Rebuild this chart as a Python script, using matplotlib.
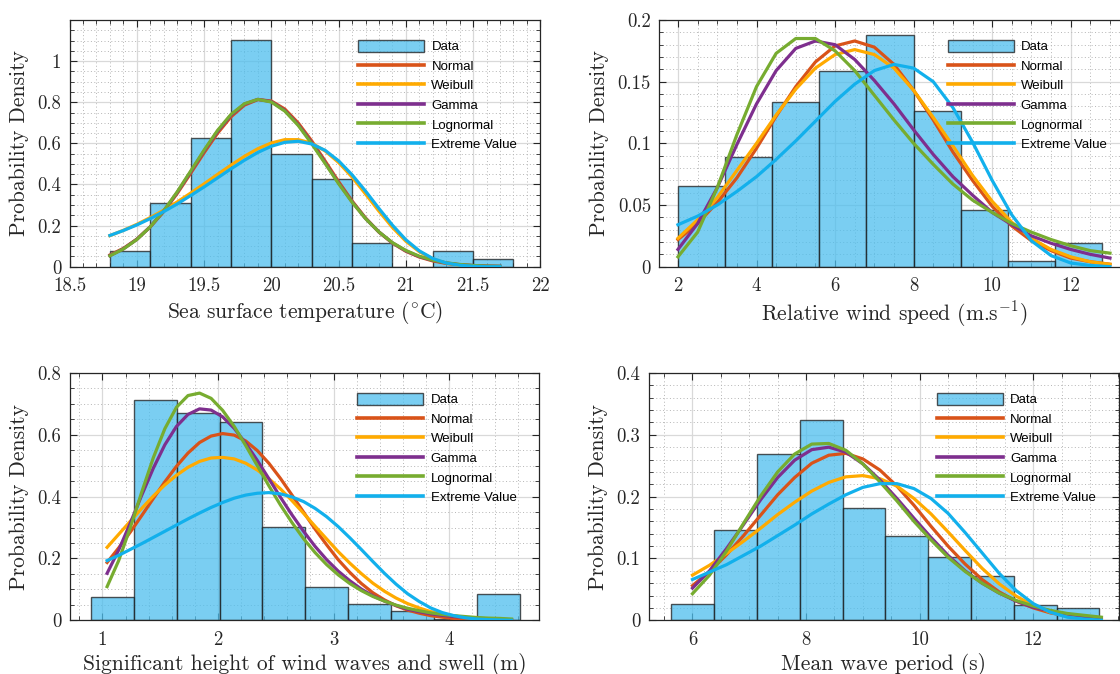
import numpy as np
import matplotlib
matplotlib.use('Agg')
import matplotlib.pyplot as plt
from matplotlib.ticker import MultipleLocator, FuncFormatter, FixedLocator
from matplotlib.patches import Patch
from matplotlib.lines import Line2D
from matplotlib.font_manager import FontProperties

plt.rcParams['mathtext.fontset'] = 'cm'
plt.rcParams['font.family'] = 'cmr10'
plt.rcParams['axes.formatter.use_mathtext'] = True

# ---------------- Panel 1: sea surface temperature ----------------
sst_edges = [18.8, 19.1, 19.4, 19.7, 20.0, 20.3, 20.6, 20.9, 21.2, 21.5, 21.8]
sst_density = [0.078, 0.309, 0.626, 1.102, 0.548, 0.429, 0.114, 0.0, 0.078, 0.036]
sst_x = [18.8, 18.9, 19.0, 19.1, 19.2, 19.3, 19.4, 19.5, 19.6, 19.7, 19.8, 19.9, 20.0, 20.1, 20.2,
         20.3, 20.4, 20.5, 20.6, 20.7, 20.8, 20.9, 21.0, 21.1, 21.2, 21.3, 21.4, 21.5, 21.6, 21.7]
sst_normal = [0.057, 0.089, 0.134, 0.194, 0.268, 0.356, 0.454, 0.554, 0.649, 0.729, 0.786, 0.813, 0.806, 0.767, 0.699,
              0.612, 0.514, 0.414, 0.320, 0.237, 0.168, 0.115, 0.075, 0.047, 0.028, 0.016, 0.009, 0.005, 0.002, 0.001]
sst_weibull = [0.151, 0.177, 0.206, 0.239, 0.275, 0.315, 0.358, 0.403, 0.449, 0.494, 0.537, 0.574, 0.602, 0.618, 0.618,
               0.601, 0.563, 0.507, 0.436, 0.354, 0.270, 0.191, 0.124, 0.073, 0.038, 0.017, 0.007, 0.002, 0.001, 0.000]
sst_gamma = [0.054, 0.087, 0.133, 0.194, 0.271, 0.361, 0.461, 0.563, 0.658, 0.737, 0.791, 0.814, 0.803, 0.760, 0.691,
             0.603, 0.506, 0.407, 0.316, 0.235, 0.169, 0.116, 0.077, 0.049, 0.031, 0.018, 0.010, 0.006, 0.003, 0.002]
sst_lognormal = [0.053, 0.086, 0.132, 0.194, 0.272, 0.364, 0.465, 0.567, 0.663, 0.741, 0.793, 0.814, 0.801, 0.757, 0.687,
                 0.598, 0.502, 0.404, 0.314, 0.234, 0.169, 0.117, 0.079, 0.051, 0.032, 0.019, 0.011, 0.006, 0.003, 0.002]
sst_extreme = [0.152, 0.176, 0.203, 0.234, 0.268, 0.305, 0.346, 0.388, 0.432, 0.476, 0.518, 0.556, 0.586, 0.605, 0.610,
               0.597, 0.566, 0.515, 0.447, 0.368, 0.283, 0.202, 0.131, 0.077, 0.040, 0.018, 0.007, 0.002, 0.000, 0.000]

# ---------------- Panel 2: relative wind speed ----------------
wind_edges = [2.0, 3.2, 4.4, 5.6, 6.8, 8.0, 9.2, 10.4, 11.6, 12.8]
wind_density = [0.0654, 0.0886, 0.1332, 0.159, 0.188, 0.126, 0.0457, 0.0043, 0.0189]
wind_x = [2.0, 2.5, 3.0, 3.5, 4.0, 4.5, 5.0, 5.5, 6.0, 6.5, 7.0, 7.5, 8.0, 8.5, 9.0, 9.5, 10.0, 10.5,
          11.0, 11.5, 12.0, 12.5, 13.0]
wind_normal = [0.022, 0.035, 0.052, 0.072, 0.096, 0.122, 0.146, 0.166, 0.179, 0.183, 0.178, 0.164, 0.143, 0.119,
               0.093, 0.070, 0.049, 0.033, 0.021, 0.013, 0.007, 0.004, 0.002]
wind_weibull = [0.023, 0.038, 0.056, 0.078, 0.100, 0.123, 0.144, 0.161, 0.172, 0.176, 0.172, 0.161, 0.143, 0.121,
                0.098, 0.074, 0.053, 0.036, 0.023, 0.014, 0.008, 0.004, 0.002]
wind_gamma = [0.014, 0.035, 0.064, 0.099, 0.132, 0.159, 0.177, 0.183, 0.180, 0.168, 0.151, 0.132, 0.111, 0.091,
              0.073, 0.058, 0.044, 0.034, 0.025, 0.019, 0.014, 0.010, 0.007]
wind_lognormal = [0.008, 0.028, 0.064, 0.107, 0.146, 0.173, 0.185, 0.185, 0.175, 0.159, 0.139, 0.119, 0.100, 0.083,
                  0.067, 0.054, 0.044, 0.035, 0.028, 0.022, 0.017, 0.013, 0.011]
wind_extreme = [0.034, 0.041, 0.050, 0.061, 0.073, 0.087, 0.102, 0.118, 0.134, 0.148, 0.159, 0.164, 0.161, 0.150,
                0.129, 0.101, 0.070, 0.042, 0.021, 0.009, 0.003, 0.001, 0.000]

# ---------------- Panel 3: significant wave height ----------------
hs_edges = [0.9, 1.271, 1.642, 2.013, 2.384, 2.755, 3.126, 3.497, 3.868, 4.239, 4.61]
hs_density = [0.0755, 0.714, 0.670, 0.640, 0.301, 0.107, 0.052, 0.031, 0.004, 0.085]
hs_x = [1.04, 1.14, 1.24, 1.34, 1.44, 1.54, 1.64, 1.74, 1.84, 1.94, 2.04, 2.14, 2.24, 2.34, 2.44, 2.54, 2.64, 2.74,
        2.84, 2.94, 3.04, 3.14, 3.24, 3.34, 3.44, 3.54, 3.64, 3.74, 3.84, 3.94, 4.04, 4.14, 4.24, 4.34, 4.44, 4.54]
hs_normal = [0.187, 0.234, 0.285, 0.339, 0.394, 0.448, 0.498, 0.541, 0.575, 0.596, 0.604, 0.599, 0.580, 0.549,
             0.508, 0.459, 0.405, 0.350, 0.295, 0.244, 0.196, 0.155, 0.119, 0.089, 0.066, 0.047, 0.033, 0.023,
             0.015, 0.010, 0.006, 0.004, 0.002, 0.001, 0.001, 0.000]
hs_weibull = [0.236, 0.278, 0.320, 0.362, 0.402, 0.438, 0.469, 0.495, 0.514, 0.525, 0.527, 0.522, 0.508, 0.486,
              0.458, 0.425, 0.387, 0.346, 0.304, 0.263, 0.222, 0.185, 0.151, 0.120, 0.094, 0.072, 0.054, 0.040,
              0.028, 0.020, 0.014, 0.009, 0.006, 0.004, 0.002, 0.001]
hs_gamma = [0.152, 0.227, 0.314, 0.405, 0.492, 0.568, 0.627, 0.666, 0.684, 0.680, 0.658, 0.621, 0.572, 0.517,
            0.458, 0.398, 0.341, 0.288, 0.239, 0.196, 0.159, 0.128, 0.101, 0.079, 0.062, 0.048, 0.036, 0.028,
            0.021, 0.016, 0.012, 0.009, 0.006, 0.005, 0.003, 0.002]
hs_lognormal = [0.109, 0.193, 0.299, 0.415, 0.526, 0.620, 0.689, 0.727, 0.735, 0.718, 0.679, 0.627, 0.565, 0.500,
                0.435, 0.373, 0.316, 0.264, 0.219, 0.180, 0.147, 0.119, 0.096, 0.077, 0.062, 0.049, 0.039, 0.031,
                0.024, 0.019, 0.015, 0.012, 0.009, 0.007, 0.006, 0.004]
hs_extreme = [0.193, 0.210, 0.229, 0.248, 0.268, 0.288, 0.308, 0.328, 0.347, 0.365, 0.381, 0.395, 0.405, 0.411,
              0.413, 0.409, 0.399, 0.384, 0.362, 0.335, 0.303, 0.267, 0.229, 0.190, 0.152, 0.117, 0.086, 0.061,
              0.040, 0.025, 0.015, 0.008, 0.004, 0.002, 0.001, 0.000]

# ---------------- Panel 4: mean wave period ----------------
tm_edges = [5.63, 6.384, 7.137, 7.891, 8.644, 9.398, 10.151, 10.905, 11.658, 12.412, 13.165]
tm_density = [0.027, 0.1456, 0.2685, 0.324, 0.181, 0.1364, 0.1024, 0.0712, 0.0253, 0.0205]
tm_x = [6.0, 6.3, 6.6, 6.9, 7.2, 7.5, 7.8, 8.1, 8.4, 8.7, 9.0, 9.3, 9.6, 9.9, 10.2, 10.5, 10.8, 11.1, 11.4,
        11.7, 12.0, 12.3, 12.6, 12.9, 13.2]
tm_normal = [0.056, 0.079, 0.106, 0.137, 0.170, 0.203, 0.231, 0.254, 0.267, 0.270, 0.261, 0.243, 0.217, 0.186,
             0.152, 0.120, 0.091, 0.066, 0.046, 0.031, 0.020, 0.012, 0.007, 0.004, 0.002]
tm_weibull = [0.073, 0.089, 0.108, 0.128, 0.149, 0.171, 0.191, 0.209, 0.223, 0.232, 0.234, 0.229, 0.217, 0.197,
              0.172, 0.143, 0.113, 0.084, 0.059, 0.039, 0.024, 0.013, 0.007, 0.003, 0.001]
tm_gamma = [0.052, 0.080, 0.116, 0.155, 0.195, 0.231, 0.259, 0.276, 0.280, 0.272, 0.253, 0.227, 0.197, 0.165,
            0.134, 0.105, 0.080, 0.060, 0.044, 0.031, 0.021, 0.015, 0.010, 0.006, 0.004]
tm_lognormal = [0.043, 0.073, 0.112, 0.157, 0.201, 0.240, 0.269, 0.285, 0.286, 0.275, 0.253, 0.224, 0.193, 0.160,
                0.130, 0.102, 0.079, 0.060, 0.044, 0.032, 0.023, 0.016, 0.011, 0.008, 0.005]
tm_extreme = [0.066, 0.078, 0.090, 0.105, 0.120, 0.137, 0.154, 0.172, 0.188, 0.203, 0.215, 0.221, 0.221, 0.213,
              0.197, 0.173, 0.142, 0.109, 0.076, 0.048, 0.027, 0.013, 0.005, 0.002, 0.000]

series_names = ['Normal', 'Weibull', 'Gamma', 'Lognormal', 'Extreme Value']
xlabels = ['Sea surface temperature ($^{\\circ}$C)', 'Relative wind speed (m.s$^{-1}$)',
           'Significant height of wind waves and swell (m)', 'Mean wave period (s)']
ylabel = 'Probability Density'

panels = [
    (sst_edges, sst_density, sst_x, [sst_normal, sst_weibull, sst_gamma, sst_lognormal, sst_extreme]),
    (wind_edges, wind_density, wind_x, [wind_normal, wind_weibull, wind_gamma, wind_lognormal, wind_extreme]),
    (hs_edges, hs_density, hs_x, [hs_normal, hs_weibull, hs_gamma, hs_lognormal, hs_extreme]),
    (tm_edges, tm_density, tm_x, [tm_normal, tm_weibull, tm_gamma, tm_lognormal, tm_extreme]),
]

colors = ['#D95319', '#FFAA00', '#7E2F8E', '#77AC30', '#12B0EC']
bar_color = '#4DBEEE'
positions = [[0.0621, 0.6043, 0.4204, 0.3660], [0.5887, 0.6043, 0.4199, 0.3660],
             [0.0621, 0.0797, 0.4194, 0.3669], [0.5791, 0.0797, 0.4200, 0.3669]]
xlims = [(18.5, 22), (1.526, 13.5), (0.715, 4.78), (5.227, 13.51)]
ylims = [(0, 1.2), (0, 0.2), (0, 0.8), (0, 0.4)]
xmaj = [0.5, 2, 1, 2]; xmin = [0.1, 0.5, 0.2, 0.5]
ymaj = [0.2, 0.05, 0.2, 0.1]; ymin = [0.05, 0.01, 0.05, 0.02]
ytop = [1.0, 0.2, 0.8, 0.4]

fig = plt.figure(figsize=(11.2, 6.74), dpi=100)
fmt = FuncFormatter(lambda v, p: '%g' % round(v, 6))
for i, (edges, dens, xc, ycurves) in enumerate(panels):
    ax = fig.add_axes(positions[i])
    e = np.asarray(edges)
    ax.bar(e[:-1], dens, width=np.diff(e), align='edge', color=bar_color, alpha=0.75,
           edgecolor='#1a1a1a', linewidth=1.0, zorder=2)
    for yc, col in zip(ycurves, colors):
        ax.plot(xc, yc, color=col, lw=2.3, zorder=3, solid_joinstyle='round')
    ax.set_xlim(*xlims[i]); ax.set_ylim(*ylims[i])
    ax.xaxis.set_major_locator(MultipleLocator(xmaj[i]))
    ax.xaxis.set_minor_locator(MultipleLocator(xmin[i]))
    ax.yaxis.set_major_locator(FixedLocator(np.round(np.arange(0, ytop[i] + 1e-9, ymaj[i]), 4)))
    ax.yaxis.set_minor_locator(MultipleLocator(ymin[i]))
    ax.xaxis.set_major_formatter(fmt); ax.yaxis.set_major_formatter(fmt)
    ax.grid(which='major', color='#d9d9d9', lw=0.9, ls='-', zorder=0)
    ax.grid(which='minor', color='#b5b5b5', lw=0.7, ls=(0, (1, 2.5)), zorder=0)
    ax.set_axisbelow(True)
    ax.tick_params(which='both', direction='in', top=True, right=True, colors='#262626',
                   labelsize=13.5, labelcolor='#262626')
    ax.tick_params(which='major', length=5, width=0.8, pad=6)
    ax.tick_params(axis='x', which='major', pad=7.5)
    ax.tick_params(which='minor', length=3, width=0.6)
    for s in ax.spines.values():
        s.set_color('#262626'); s.set_linewidth(0.9)
    ax.set_xlabel(xlabels[i], fontsize=15.5, color='#262626', labelpad=3)
    ax.set_ylabel(ylabel, fontsize=15.5, color='#262626', labelpad=6)
    handles = [Patch(facecolor=bar_color, alpha=0.75, edgecolor='#1a1a1a', linewidth=1.0)]
    handles += [Line2D([], [], color=col, lw=2.6) for col in colors]
    ax.legend(handles, ['Data'] + series_names, loc='upper left', bbox_to_anchor=(0.613, 0.92),
              frameon=False, prop=FontProperties(family='Liberation Sans', size=9.5),
              handlelength=5.0, handletextpad=0.55, labelspacing=0.47, borderpad=0,
              borderaxespad=0, handleheight=1.0)

fig.savefig('out.png', dpi=100)
